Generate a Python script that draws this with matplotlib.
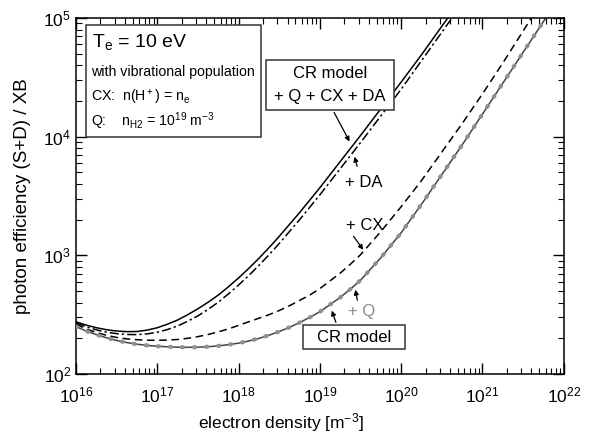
import numpy as np
import matplotlib.pyplot as plt
from matplotlib.patches import Rectangle
from matplotlib.ticker import LogLocator, NullFormatter

plt.rcParams['font.family'] = ['Liberation Sans', 'DejaVu Sans']
plt.rcParams['mathtext.fontset'] = 'custom'
plt.rcParams['mathtext.rm'] = 'Liberation Sans'
plt.rcParams['mathtext.it'] = 'Liberation Sans:italic'
plt.rcParams['mathtext.default'] = 'rm'

nan = np.nan

# log10 of electron density [m^-3]
log_ne = [16.0, 16.125, 16.25, 16.375, 16.5, 16.625, 16.75, 16.875,
          17.0, 17.125, 17.25, 17.375, 17.5, 17.625, 17.75, 17.875,
          18.0, 18.125, 18.25, 18.375, 18.5, 18.625, 18.75, 18.875,
          19.0, 19.125, 19.25, 19.375, 19.5, 19.75, 20.0, 20.25,
          20.5, 20.75, 21.0, 21.25, 21.5, 21.75, 22.0]

# log10 of photon efficiency (S+D)/XB
# CR model + Q + CX + DA (solid)
log_all = [2.44, 2.412, 2.39, 2.373, 2.362, 2.357, 2.358, 2.37,
           2.39, 2.42, 2.455, 2.50, 2.55, 2.605, 2.665, 2.735,
           2.81, 2.89, 2.975, 3.065, 3.16, 3.26, 3.36, 3.465,
           3.57, 3.68, 3.79, 3.90, 4.01, 4.235, 4.46, 4.69,
           4.93, 5.17, nan, nan, nan, nan, nan]
# + DA (dash-dot)
log_da = [2.43, 2.398, 2.372, 2.352, 2.34, 2.333, 2.332, 2.338,
          2.352, 2.375, 2.405, 2.445, 2.49, 2.545, 2.605, 2.675,
          2.75, 2.83, 2.915, 3.005, 3.10, 3.20, 3.30, 3.405,
          3.51, 3.62, 3.73, 3.84, 3.95, 4.175, 4.40, 4.64,
          4.88, 5.12, nan, nan, nan, nan, nan]
# + CX (dashed)
log_cx = [2.42, 2.38, 2.35, 2.326, 2.308, 2.296, 2.289, 2.285,
          2.284, 2.286, 2.291, 2.301, 2.315, 2.333, 2.355, 2.38,
          2.41, 2.44, 2.47, 2.50, 2.535, 2.575, 2.62, 2.665,
          2.72, 2.785, 2.85, 2.925, 3.005, 3.20, 3.41, 3.63,
          3.87, 4.11, 4.36, 4.62, 4.89, 5.16, nan]
# CR model (solid)
log_cr = [2.40, 2.362, 2.332, 2.305, 2.283, 2.265, 2.251, 2.241,
          2.234, 2.229, 2.226, 2.225, 2.226, 2.23, 2.237, 2.247,
          2.26, 2.278, 2.30, 2.327, 2.358, 2.393, 2.433, 2.477,
          2.525, 2.585, 2.645, 2.715, 2.79, 2.98, 3.19, 3.43,
          3.68, 3.93, 4.19, 4.45, 4.71, 4.97, 5.23]
# + Q (grey dots, on top of the CR model curve)
log_q = log_cr

ne = 10 ** np.array(log_ne)

fig = plt.figure(figsize=(5.94, 4.40), dpi=100)
ax = fig.add_axes([0.128, 0.15, 0.821, 0.809])

lw = 1.1
ax.plot(ne, 10 ** np.array(log_all), color='black', lw=lw)
ax.plot(ne, 10 ** np.array(log_da), color='black', lw=lw, linestyle=(0, (6, 2, 1.5, 2)))
ax.plot(ne, 10 ** np.array(log_cx), color='black', lw=lw, linestyle=(0, (5, 3)))
ax.plot(ne, 10 ** np.array(log_cr), color='#444444', lw=lw)
ax.plot(ne, 10 ** np.array(log_q), color='#8f8f8f', lw=3.0, zorder=3,
        linestyle=(0, (0.3, 2.6)), dash_capstyle='round')

ax.set_xscale('log')
ax.set_yscale('log')
ax.set_xlim(1e16, 1e22)
ax.set_ylim(1e2, 1e5)

for a in (ax.xaxis, ax.yaxis):
    a.set_major_locator(LogLocator(base=10, numticks=20))
    a.set_minor_locator(LogLocator(base=10, subs=np.arange(2, 10), numticks=20))
    a.set_minor_formatter(NullFormatter())
ax.tick_params(which='both', direction='in', top=True, right=True, labelsize=12.5)
ax.tick_params(which='major', length=8, width=1)
ax.tick_params(which='minor', length=4, width=0.8)
ax.tick_params(axis='x', pad=8)
for s in ax.spines.values():
    s.set_linewidth(1.1)

ax.set_xlabel('electron density [m$^{-3}$]', fontsize=12.5)
ax.xaxis.set_label_coords(0.42, -0.105)
ax.set_ylabel('photon efficiency (S+D) / XB', fontsize=13.5)
ax.yaxis.set_label_coords(-0.093, 0.5)


def fr(px, py):
    # pixel position in the figure -> axes fraction
    return ((px - 76) / 488.0, (374 - py) / 356.0)


def box(x0, y0, x1, y1):
    fx0, fy1 = fr(x0, y0)
    fx1, fy0 = fr(x1, y1)
    ax.add_patch(Rectangle((fx0, fy0), fx1 - fx0, fy1 - fy0, transform=ax.transAxes,
                           facecolor='white', edgecolor='#333333', lw=1.1, zorder=5))


# info box
box(86, 25, 261, 137)
ax.text(*fr(92, 42), r'T$_\mathregular{e}$ = 10 eV', transform=ax.transAxes,
        fontsize=14, va='center', ha='left', zorder=6)
ax.text(*fr(91, 72), 'with vibrational population', transform=ax.transAxes,
        fontsize=10.2, va='center', ha='left', zorder=6)
ax.text(*fr(91, 97), r'CX:  n(H$^+$) = n$_\mathregular{e}$', transform=ax.transAxes,
        fontsize=10.2, va='center', ha='left', zorder=6)
ax.text(*fr(91, 121), r'Q:    n$_\mathregular{H2}$ = 10$^{19}$ m$^{-3}$', transform=ax.transAxes,
        fontsize=10.2, va='center', ha='left', zorder=6)

# CR + Q + CX + DA box
box(266, 60, 394, 110)
ax.text(*fr(330, 73), 'CR model', transform=ax.transAxes, fontsize=12,
        ha='center', va='center', zorder=6)
ax.text(*fr(330, 96), '+ Q + CX + DA', transform=ax.transAxes, fontsize=12,
        ha='center', va='center', zorder=6)

# CR model box
box(303, 325, 405, 349)
ax.text(*fr(354, 337), 'CR model', transform=ax.transAxes, fontsize=12,
        ha='center', va='center', zorder=6)

ax.text(*fr(364, 182), '+ DA', transform=ax.transAxes, fontsize=12,
        ha='center', va='center')
ax.text(*fr(365, 225), '+ CX', transform=ax.transAxes, fontsize=12,
        ha='center', va='center')
ax.text(*fr(362, 311), '+ Q', transform=ax.transAxes, fontsize=12,
        ha='center', va='center', color='#8c8c8c')

arrow = dict(arrowstyle='-|>', color='black', lw=0.9, mutation_scale=7)
for tail, tip in [((333, 110), (351, 144)),
                  ((358, 169), (354, 154)),
                  ((352, 234), (365, 252)),
                  ((358, 303), (355, 287)),
                  ((337, 325), (331, 308))]:
    ax.annotate('', xy=fr(*tip), xycoords='axes fraction',
                xytext=fr(*tail), textcoords='axes fraction', arrowprops=arrow)

fig.savefig('out.png', dpi=100)
